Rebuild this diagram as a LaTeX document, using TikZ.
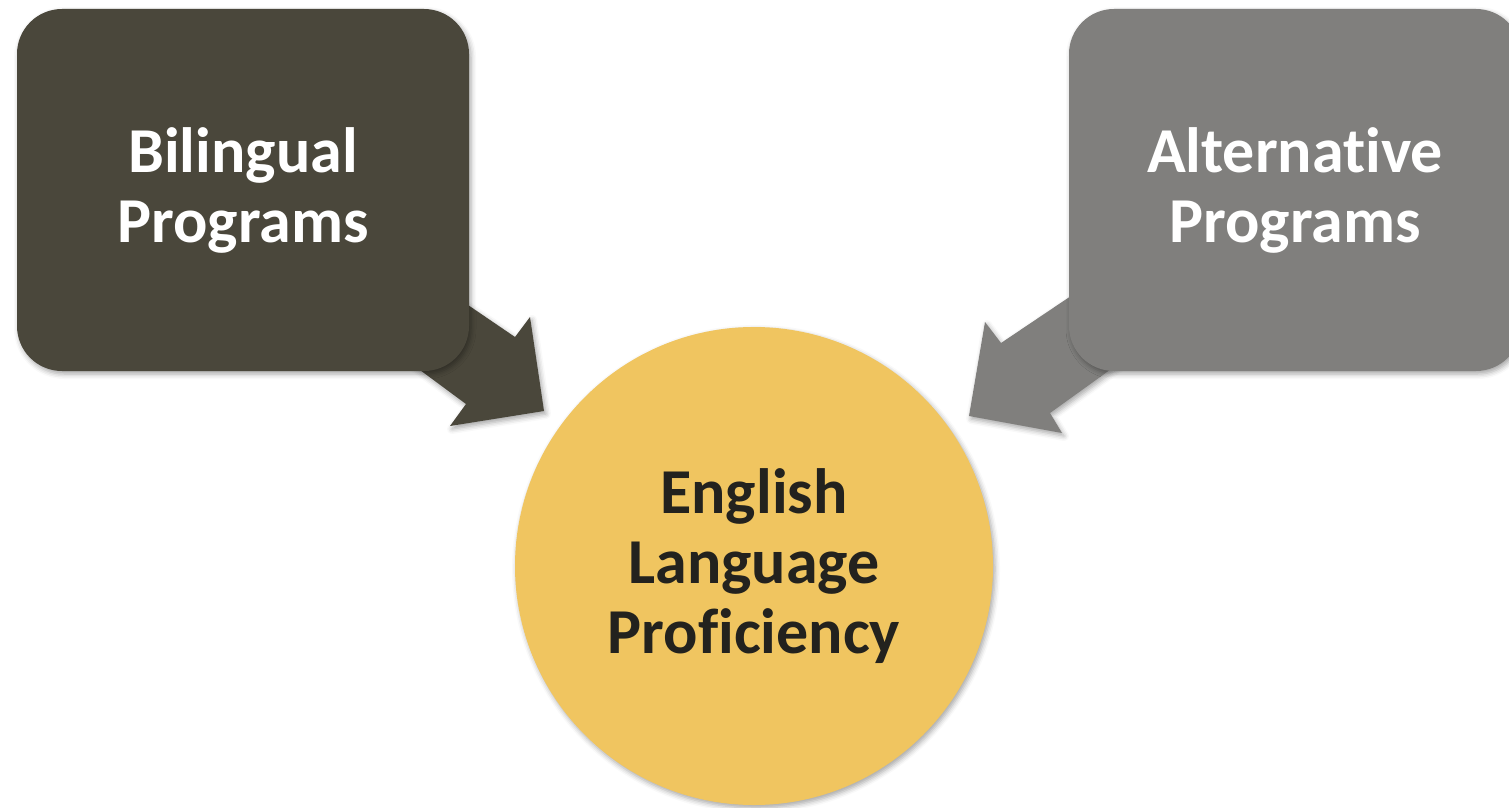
\documentclass[tikz,border=0pt]{standalone}
\usepackage{fontspec}
\setmainfont{Carlito}[Ligatures={NoCommon}]
\usetikzlibrary{shadows.blur}
\definecolor{bilcol}{HTML}{4A473B}
\definecolor{altcol}{HTML}{807F7D}
\definecolor{goalcol}{HTML}{F0C560}
\definecolor{goaltext}{HTML}{23221E}
\tikzset{
  softshadow/.style={blur shadow={shadow xshift=2pt, shadow yshift=-3pt,
      shadow blur radius=5pt, shadow opacity=35}},
  progbox/.style={rectangle, rounded corners=45pt, minimum width=452pt,
      minimum height=362pt, inner sep=0pt, text=white, align=center,
      font=\fontsize{64}{70}\selectfont\bfseries, softshadow},
  goal/.style={circle, minimum size=478pt, inner sep=0pt, fill=goalcol,
      text=goaltext, align=center,
      font=\fontsize{64}{70}\selectfont\bfseries, softshadow},
}
\begin{document}
\begin{tikzpicture}[x=1pt, y=-1pt]
\useasboundingbox (0,0) rectangle (1509,808);
\clip (0,0) rectangle (1509,808);

% block arrows running from each programme box towards the goal
\coordinate (la1) at (374,241);
\coordinate (la2) at (515,337);
\coordinate (la3) at (530,317);
\coordinate (la4) at (544,411);
\coordinate (la5) at (450,426);
\coordinate (la6) at (466,404);
\coordinate (la7) at (328,302);
\fill[bilcol, softshadow] (la1) -- (la2) -- (la3) -- (la4) -- (la5) -- (la6) -- (la7) -- cycle;

\coordinate (ra1) at (1135,253);
\coordinate (ra2) at (1001,343);
\coordinate (ra3) at (985,322);
\coordinate (ra4) at (969,416);
\coordinate (ra5) at (1062,433);
\coordinate (ra6) at (1050,413);
\coordinate (ra7) at (1164,331);
\fill[altcol, softshadow] (ra1) -- (ra2) -- (ra3) -- (ra4) -- (ra5) -- (ra6) -- (ra7) -- cycle;

% programme boxes
\node[progbox, fill=bilcol] (bil) at (243,190) {Bilingual\\Programs};
\node[progbox, fill=altcol] (alt) at (1295,190) {Alternative\\Programs};

% goal
\node[goal] (elp) at (754,566) {English\\Language\\Proficiency};
\end{tikzpicture}
\end{document}
